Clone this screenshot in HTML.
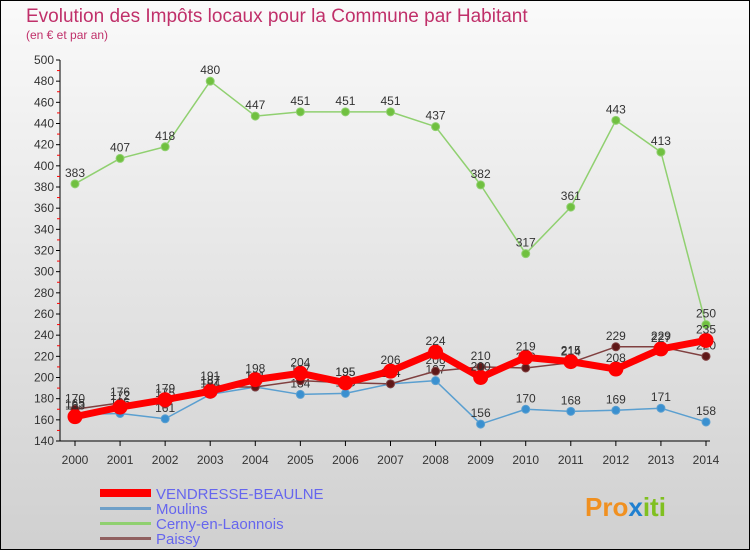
<!DOCTYPE html>
<html><head><meta charset="utf-8"><style>
body{margin:0;width:750px;height:550px;overflow:hidden;font-family:"Liberation Sans",sans-serif}
</style></head><body>
<svg id="c" width="750" height="550" xmlns="http://www.w3.org/2000/svg">
<defs><linearGradient id="bg" x1="0" y1="0" x2="0" y2="1"><stop offset="0" stop-color="#fafafa"/><stop offset="1" stop-color="#d0d0d0"/></linearGradient></defs>
<rect x="0.5" y="0.5" width="749" height="549" fill="url(#bg)" stroke="#000"/>
<text x="26" y="22" font-size="19" fill="#c0306a">Evolution des Impôts locaux pour la Commune par Habitant</text>
<text x="26" y="39" font-size="12" fill="#c0306a">(en € et par an)</text>
<g id="axes"></g><g id="plot"></g>
<g>
<rect x="100" y="489" width="51" height="8" fill="#f00"/>
<text x="156" y="499" font-size="15" fill="#6666ee">VENDRESSE-BEAULNE</text>
<rect x="100" y="507" width="51" height="3" fill="#6fa0c8"/>
<text x="156" y="514" font-size="15" fill="#6666ee">Moulins</text>
<rect x="100" y="522" width="51" height="3" fill="#90d070"/>
<text x="156" y="529" font-size="15" fill="#6666ee">Cerny-en-Laonnois</text>
<rect x="100" y="537" width="51" height="3" fill="#906060"/>
<text x="156" y="544" font-size="15" fill="#6666ee">Paissy</text>
</g>
<text x="585" y="516" font-size="26" font-weight="bold" fill="#f09020">Pro<tspan fill="#2080d0">x</tspan><tspan fill="#80c020">iti</tspan></text>
</svg>
<script>
const years=[2000,2001,2002,2003,2004,2005,2006,2007,2008,2009,2010,2011,2012,2013,2014];
const vendresse=[163,172,179,187,198,204,195,206,224,200,219,215,208,227,235];
const moulins=[165,166,161,184,191,184,185,194,197,156,170,168,169,171,158];
const cerny=[383,407,418,480,447,451,451,451,437,382,317,361,443,413,250];
const paissy=[170,176,175,191,191,197,195,194,206,210,209,214,229,229,220];
const yTicks=[140,160,180,200,220,240,260,280,300,320,340,360,380,400,420,440,460,480,500];
const NS="http://www.w3.org/2000/svg";
const x=i=>75+i*(706-75)/(years.length-1);
const y=v=>441-(v-140)*(441-60)/(500-140);
function mk(t,a,p){const e=document.createElementNS(NS,t);for(const k in a)e.setAttribute(k,a[k]);p.appendChild(e);return e;}
const ax=document.getElementById('axes'),pl=document.getElementById('plot');
let e=mk('line',{x1:60,y1:y(500),x2:60,y2:441,stroke:'#000'},ax);


e=mk('line',{x1:60,y1:441,x2:710,y2:441,stroke:'#000'},ax);


yTicks.forEach((v,k)=>{mk('line',{x1:56,x2:60,y1:y(v),y2:y(v),stroke:'#000'},ax);
if(k<yTicks.length-1)mk('line',{x1:57,x2:60,y1:y(v+10),y2:y(v+10),stroke:'#f00'},ax);
const t=mk('text',{x:54,y:y(v)+4,'font-size':12,fill:'#333','text-anchor':'end'},ax);t.textContent=v;

});
years.forEach((yr,i)=>{mk('line',{x1:x(i),x2:x(i),y1:441,y2:446,stroke:'#000'},ax);
const t=mk('text',{x:x(i),y:464,'font-size':12,fill:'#333','text-anchor':'middle'},ax);t.textContent=yr;

});
function series(d,name,line,dot,w,r){
const g=mk('g',{},pl);


mk('polyline',{points:d.map((v,i)=>x(i)+','+y(v)).join(' '),fill:'none',stroke:line,'stroke-width':w,'stroke-linejoin':'round'},g);
d.forEach((v,i)=>{const c=mk('circle',{cx:x(i),cy:y(v),r:r,fill:dot,stroke:line,'stroke-width':1},g);


const t=mk('text',{x:x(i),y:y(v)-7,'font-size':12,fill:'#333','text-anchor':'middle'},g);t.textContent=v;

});}
series(cerny,'cerny','#90d070','#70c040',1.5,4);
series(moulins,'moulins','#5a9fd0','#3a90d0',1.5,4);
series(paissy,'paissy','#804040','#601818',1.5,4);
series(vendresse,'vendresse','#f00','#f00',7,7);
</script>
</body></html>
